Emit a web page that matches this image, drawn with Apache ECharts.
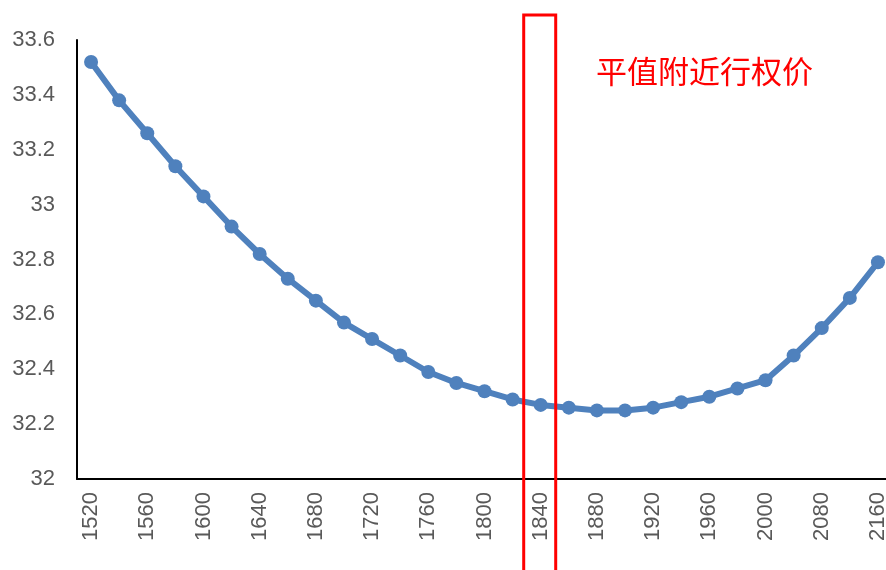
<!DOCTYPE html>
<html><head><meta charset="utf-8">
<script src="https://cdn.jsdelivr.net/npm/echarts@6/dist/echarts.min.js"></script>
<style>html,body{margin:0;padding:0;background:#fff}#c{width:886px;height:570px}</style>
</head><body><div id="c"></div>
<script>
const categories = ['1520','1540','1560','1580','1600','1620','1640','1660','1680','1700','1720','1740','1760','1780','1800','1820','1840','1860','1880','1900','1920','1940','1960','1980','2000','2040','2080','2120','2160'];
const values = [33.52,33.38,33.26,33.14,33.03,32.92,32.82,32.73,32.65,32.57,32.51,32.45,32.39,32.35,32.32,32.29,32.27,32.26,32.25,32.25,32.26,32.28,32.30,32.33,32.36,32.45,32.55,32.66,32.79];
const yTicks = [32, 33.6, 0.2];
const highlightCategory = '1840';
const annotation = '平值附近行权价';

const chart = echarts.init(document.getElementById('c'), null, {renderer:'canvas'});
chart.setOption({
  animation:false,
  grid:{left:77, top:40, height:439, width:815, containLabel:false, outerBoundsMode:'none'},
  xAxis:{type:'category', data:categories, boundaryGap:true,
    axisLine:{lineStyle:{color:'#000', width:2}},
    axisTick:{show:false},
    axisLabel:{rotate:90, interval:1, color:'#595959', fontSize:22, fontFamily:'Liberation Sans, Arial, sans-serif', margin:13}},
  yAxis:{type:'value', min:yTicks[0], max:yTicks[1], interval:yTicks[2],
    axisLine:{show:true, lineStyle:{color:'#000', width:2}},
    axisTick:{show:false}, splitLine:{show:false},
    axisLabel:{color:'#595959', fontSize:22, fontFamily:'Liberation Sans, Arial, sans-serif', margin:22,
      formatter:v=>String(Math.round(v*10)/10)}},
  series:[{type:'line', data:values, symbol:'circle', symbolSize:14,
    lineStyle:{color:'#4F81BD', width:6}, itemStyle:{color:'#4F81BD'}}]
});
const px = chart.convertToPixel({xAxisIndex:0}, highlightCategory);
chart.setOption({graphic:[
  {type:'rect', shape:{x:px-17, y:15, width:32, height:600}, style:{fill:'none', stroke:'#FF0000', lineWidth:3}, z:100},
  {type:'text', left:596, top:56, style:{text:annotation, fill:'#FF0000', fontSize:31, fontFamily:'Noto Sans CJK SC'}, z:100}
]});
</script></body></html>
